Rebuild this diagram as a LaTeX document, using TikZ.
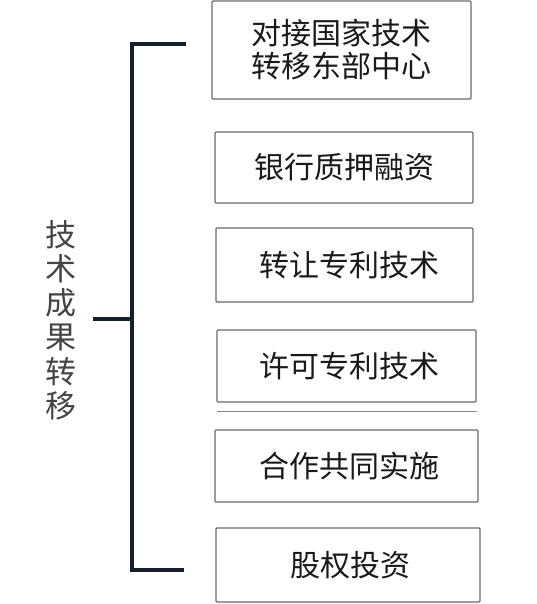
\documentclass[tikz,border=0pt]{standalone}
\usepackage{fontspec}
\setmainfont{Noto Sans CJK SC}
\definecolor{boxline}{HTML}{6A6A6A}
\definecolor{txt}{HTML}{1A1A1A}
\definecolor{lbltxt}{HTML}{444444}
\definecolor{brk}{HTML}{16202A}
\begin{document}
\begin{tikzpicture}[x=1pt,y=-1pt,
  itembox/.style={draw=boxline,line width=1.3pt,rounded corners=1pt,fill=white,
    text=txt,align=center,inner sep=0pt,font=\fontsize{30}{33}\selectfont},
  brace/.style={draw=brk,line width=3.2pt,line cap=butt,line join=miter}]
\useasboundingbox (0,0) rectangle (536,604);
\node[itembox,minimum width=259pt,minimum height=98pt] (b1) at (341.5,50) {对接国家技术\\转移东部中心};
\node[itembox,minimum width=258pt,minimum height=71pt] (b2) at (344,167.5) {银行质押融资};
\node[itembox,minimum width=257pt,minimum height=74pt] (b3) at (344.5,265) {\hspace{10pt}转让专利技术};
\node[itembox,minimum width=259pt,minimum height=72pt] (b4) at (346.5,366) {\hspace{6pt}许可专利技术};
\node[itembox,minimum width=263pt,minimum height=72pt] (b5) at (346.5,466) {\hspace{6pt}合作共同实施};
\node[itembox,minimum width=264pt,minimum height=74pt] (b6) at (348,565) {\hspace{4pt}股权投资};
\coordinate (s1) at (217,411);
\coordinate (s2) at (477,411);
\draw[boxline!80,line width=0.8pt] (s1) -- (s2);
\node[text=lbltxt,align=center,inner sep=0pt,font=\fontsize{31}{34.2}\selectfont] (lbl) at (61,320) {技\\术\\成\\果\\转\\移};
\coordinate (t1) at (186,44);
\coordinate (t0) at (132,44);
\coordinate (m0) at (132,319);
\coordinate (m1) at (93,319);
\coordinate (u0) at (132,570);
\coordinate (u1) at (184,570);
\draw[brace] (t1) -- (t0) -- (u0) -- (u1);
\draw[brace] (m1) -- (m0);
\end{tikzpicture}
\end{document}
